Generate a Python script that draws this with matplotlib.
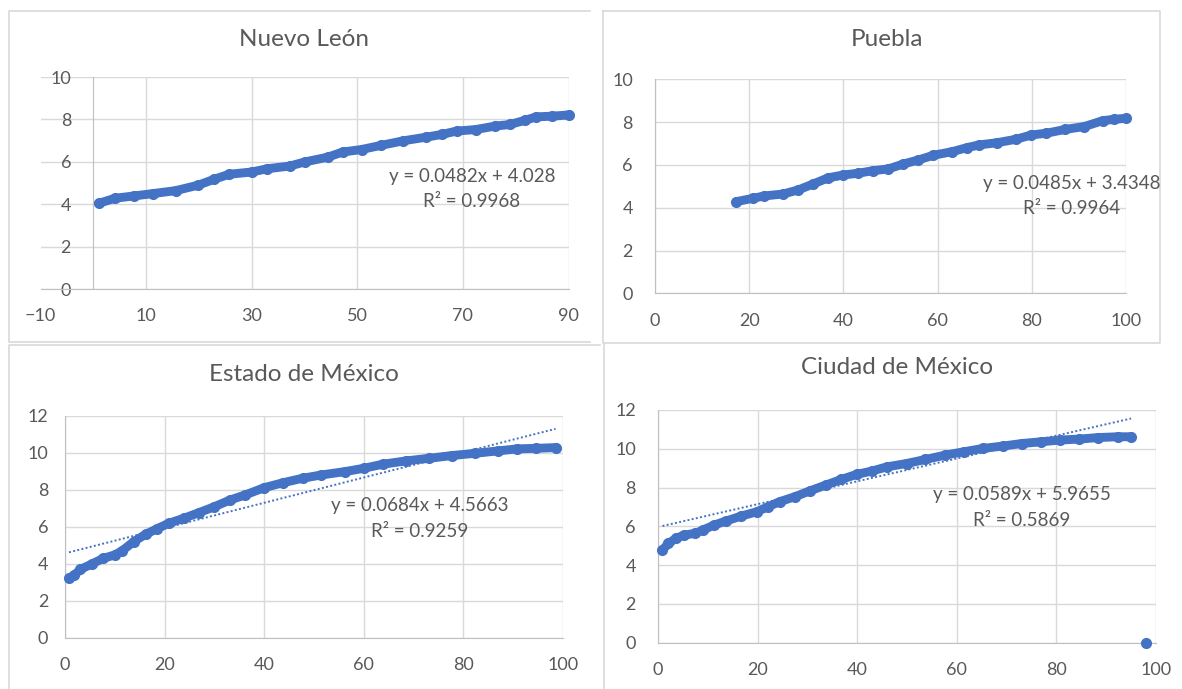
import matplotlib.pyplot as plt
from matplotlib.lines import Line2D

plt.rcParams['font.family'] = ['Lato', 'DejaVu Sans']

# Nuevo León
nl_x = [1, 4.1, 7.7, 11.3, 15.6, 19.9, 22.8, 25.7, 30, 32.9, 37.2, 40, 44.4, 47.2,
        50.8, 54.4, 58.7, 63, 66, 68.8, 72.4, 76, 78.9, 81.8, 83.9, 86.8, 90]
nl_y = [4.04, 4.28, 4.39, 4.50, 4.64, 4.90, 5.17, 5.41, 5.52, 5.67, 5.80, 5.99, 6.22, 6.46,
        6.58, 6.77, 6.99, 7.16, 7.29, 7.45, 7.52, 7.68, 7.76, 7.96, 8.12, 8.15, 8.21]
nl_fit = (0.0482, 4.028, 0.9968)

# Puebla
pu_x = [17.2, 20.8, 23.2, 27.2, 30.4, 33.6, 36.8, 40, 43.1, 46.3, 49.5, 52.7, 55.9,
        59.1, 63.1, 66.3, 68.7, 72.7, 76.7, 79.9, 83.1, 87.1, 91.1, 95.1, 97.5, 100]
pu_y = [4.28, 4.44, 4.55, 4.64, 4.83, 5.11, 5.40, 5.53, 5.61, 5.73, 5.81, 6.04, 6.23,
        6.45, 6.62, 6.81, 6.93, 7.04, 7.20, 7.40, 7.48, 7.66, 7.79, 8.07, 8.13, 8.18]
pu_fit = (0.0485, 3.4348, 0.9964)

# Estado de México
em_x = [0.8, 1.9, 3.1, 5.4, 7.7, 10, 11.5, 13.8, 16.2, 18.5, 20.8, 23.8, 26.9, 30, 33.1,
        36.2, 40, 43.8, 47.7, 51.5, 56.2, 60, 63.8, 68.5, 73.1, 77.7, 82.3, 86.9, 90.8,
        94.6, 98.5]
em_y = [3.21, 3.39, 3.70, 3.99, 4.30, 4.48, 4.71, 5.20, 5.60, 5.90, 6.19, 6.46, 6.77, 7.09,
        7.45, 7.73, 8.12, 8.39, 8.63, 8.81, 8.99, 9.17, 9.39, 9.57, 9.71, 9.86, 9.98, 10.11,
        10.22, 10.25, 10.29]
em_fit = (0.0684, 4.5663, 0.9259)

# Ciudad de México, plus the lone zero reading at the end
cd_x = [0.9, 2.1, 3.6, 5.2, 7.5, 9, 11.3, 13.6, 16.7, 19.8, 22.1, 24.4, 27.5, 30.6, 33.7,
        36.8, 39.9, 42.9, 46, 49.9, 53.7, 57.6, 61.5, 65.3, 69.2, 73, 76.9, 80.7, 84.6,
        88.4, 92.3, 95]
cd_y = [4.78, 5.12, 5.38, 5.55, 5.64, 5.81, 6.07, 6.27, 6.53, 6.75, 7.01, 7.27, 7.53, 7.84,
        8.13, 8.42, 8.68, 8.85, 9.07, 9.24, 9.45, 9.67, 9.85, 10.02, 10.14, 10.27, 10.36,
        10.45, 10.50, 10.58, 10.62, 10.62]
cd_out_x = [98]
cd_out_y = [0]
cd_fit = (0.0589, 5.9655, 0.5869)

W, H = 1182, 689
BLUE = '#4472C4'
GRID = '#d9d9d9'
AXIS = '#bfbfbf'
TXT = '#595959'

fig = plt.figure(figsize=(W / 100, H / 100), dpi=100)


def px_axes(l, t, r, b):
    return fig.add_axes([l / W, 1 - b / H, (r - l) / W, (b - t) / H])


def fig_line(xs, ys):
    fig.add_artist(Line2D([x / W for x in xs], [1 - y / H for y in ys],
                          color=GRID, lw=1.2, transform=fig.transFigure))


def panel(box, xlim, xticks, ylim, yticks, xs, ys, fit, title, title_xy, eq_xy, ypad=14):
    ax = px_axes(*box)
    ax.set_xlim(*xlim)
    ax.set_ylim(*ylim)
    ax.set_xticks(xticks)
    ax.set_yticks(yticks)
    ax.grid(True, color=GRID, lw=1)
    ax.set_axisbelow(True)
    for s in ['top', 'right']:
        ax.spines[s].set_visible(False)
    ax.spines['left'].set_position(('data', 0))
    ax.spines['left'].set_color(AXIS)
    ax.spines['bottom'].set_color(AXIS)
    ax.tick_params(length=0, labelsize=13, labelcolor=TXT)
    ax.tick_params(axis='y', pad=ypad)
    ax.tick_params(axis='x', pad=14)
    if xlim[0] < 0:
        ax.get_xgridlines()[0].set_visible(False)

    # linear trendline from the fitted coefficients, across the data range
    slope, icpt, r2 = fit
    tx = [min(xs), max(xs)]
    ax.plot(tx, [slope * v + icpt for v in tx], ls=(0, (1, 1.2)), lw=1.4,
            color=BLUE, zorder=2)
    ax.plot(xs, ys, '-o', color=BLUE, lw=6.4, ms=7, solid_capstyle='round',
            solid_joinstyle='round', zorder=3, clip_on=False)

    fig.text(title_xy[0] / W, 1 - title_xy[1] / H, title, ha='center', va='center',
             fontsize=17.5, color=TXT)
    fig.text(eq_xy[0] / W, 1 - eq_xy[1] / H, f'y = {slope}x + {icpt}',
             ha='center', va='center', fontsize=13.5, color=TXT)
    fig.text(eq_xy[0] / W, 1 - (eq_xy[1] + 25.5) / H, f'R² = {r2}',
             ha='center', va='center', fontsize=13.5, color=TXT)
    return ax


panel((40.5, 77, 568.5, 289), (-10, 90), [-10, 10, 30, 50, 70, 90], (0, 10),
      [0, 2, 4, 6, 8, 10], nl_x, nl_y, nl_fit, 'Nuevo León', (304, 39), (472, 176.5),
      ypad=16)
panel((655, 79.3, 1126, 293.3), (0, 100), [0, 20, 40, 60, 80, 100], (0, 10),
      [0, 2, 4, 6, 8, 10], pu_x, pu_y, pu_fit, 'Puebla', (887, 40), (1072, 183),
      ypad=16)
panel((65, 416, 563, 637.7), (0, 100), [0, 20, 40, 60, 80, 100], (0, 12),
      [0, 2, 4, 6, 8, 10, 12], em_x, em_y, em_fit, 'Estado de México', (304, 375),
      (420, 506), ypad=12)
ax4 = panel((658, 410, 1156, 642.7), (0, 100), [0, 20, 40, 60, 80, 100], (0, 12),
            [0, 2, 4, 6, 8, 10, 12], cd_x, cd_y, cd_fit, 'Ciudad de México', (897, 368),
            (1022, 494.5), ypad=16)
ax4.plot(cd_out_x, cd_out_y, 'o', color=BLUE, ms=7, zorder=3, clip_on=False)

# panel frames
fig_line([590, 8.5, 8.5, 590], [10.7, 10.7, 342, 342])
fig_line([603, 1160, 1160, 603, 603], [10.7, 10.7, 343, 343, 10.7])
fig_line([8.5, 8.5, 600], [689, 344.5, 344.5])
fig_line([603.5, 603.5], [343, 689])

fig.savefig('out.png', dpi=100)
